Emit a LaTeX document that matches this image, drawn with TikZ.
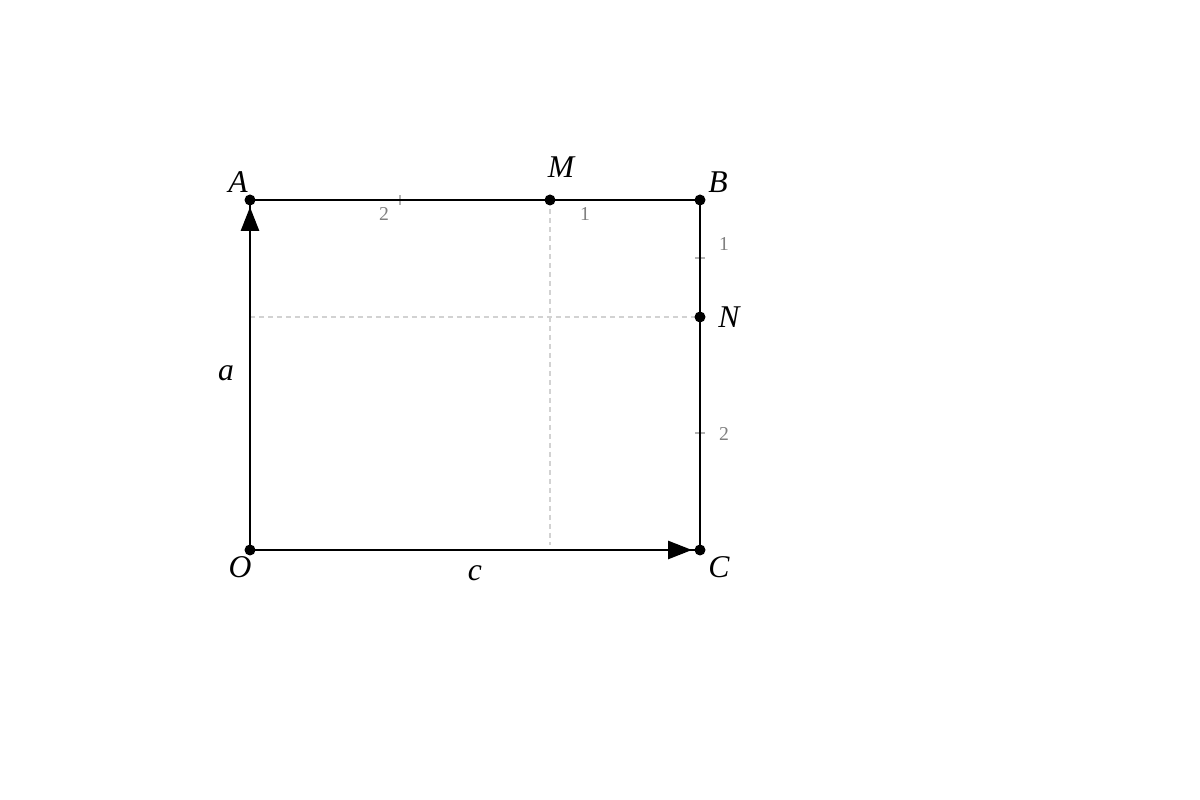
\documentclass[tikz,border=0pt]{standalone}
\usepackage{fontspec}
\setmainfont{Liberation Serif}
\usetikzlibrary{arrows.meta,calc}
\tikzset{
  edge/.style={line width=0.8pt, black},
  vec/.style={line width=0.8pt, -{Triangle[length=0.24cm,width=0.18cm]}},
  pt/.style={circle, fill=black, inner sep=0pt, minimum size=0.11cm},
  guide/.style={gray!35, line width=0.35pt, dash pattern=on 0.05cm off 0.04cm},
  tick/.style={gray!60, line width=0.4pt},
  lab/.style={font=\fontsize{9}{11}\selectfont\itshape, inner sep=0pt},
  num/.style={font=\fontsize{5.6}{7}\selectfont, text=gray, inner sep=0pt}
}
\begin{document}
\begin{tikzpicture}
\useasboundingbox (0,0) rectangle (12,8);
\coordinate (O) at (2.5,2.5);
\coordinate (A) at (2.5,6);
\coordinate (B) at (7,6);
\coordinate (C) at (7,2.5);
\coordinate (M) at (5.5,6);
\coordinate (N) at (7,4.83);
\coordinate (Mf) at (5.5,2.55);
\coordinate (Nf) at (2.5,4.83);
\coordinate (t1) at (4,6);
\coordinate (t2) at (7,5.42);
\coordinate (t3) at (7,3.67);
% guides
\draw[guide] (M) -- (Mf);
\draw[guide] (Nf) -- (N);
% ticks
\draw[tick] ($(t1)+(0,-0.05)$) -- ($(t1)+(0,0.05)$);
\draw[tick] ($(t2)+(-0.05,0)$) -- ($(t2)+(0.05,0)$);
\draw[tick] ($(t3)+(-0.05,0)$) -- ($(t3)+(0.05,0)$);
% edges
\draw[edge] (A) -- (B) -- (C);
\draw[edge] (O) -- (C);
\draw[edge] (O) -- (A);
\draw[vec, shorten >=0.08cm] (O) -- (C);
\draw[vec, shorten >=0.07cm] (O) -- (A);
% points
\foreach \p in {O,A,B,C,M,N} \node[pt] at (\p) {};
% labels
\node[lab] (lA) at (2.38,6.18) {A};
\node[lab] (lB) at (7.18,6.18) {B};
\node[lab] (lM) at (5.61,6.33) {M};
\node[lab] (lN) at (7.29,4.83) {N};
\node[lab] (lO) at (2.40,2.33) {O};
\node[lab] (lC) at (7.19,2.33) {C};
\node[lab] (la) at (2.26,4.27) {a};
\node[lab] (lc) at (4.75,2.27) {c};
\node[num] (n1) at (3.84,5.86) {2};
\node[num] (n2) at (5.85,5.86) {1};
\node[num] (n3) at (7.24,5.56) {1};
\node[num] (n4) at (7.24,3.66) {2};
\end{tikzpicture}
\end{document}
